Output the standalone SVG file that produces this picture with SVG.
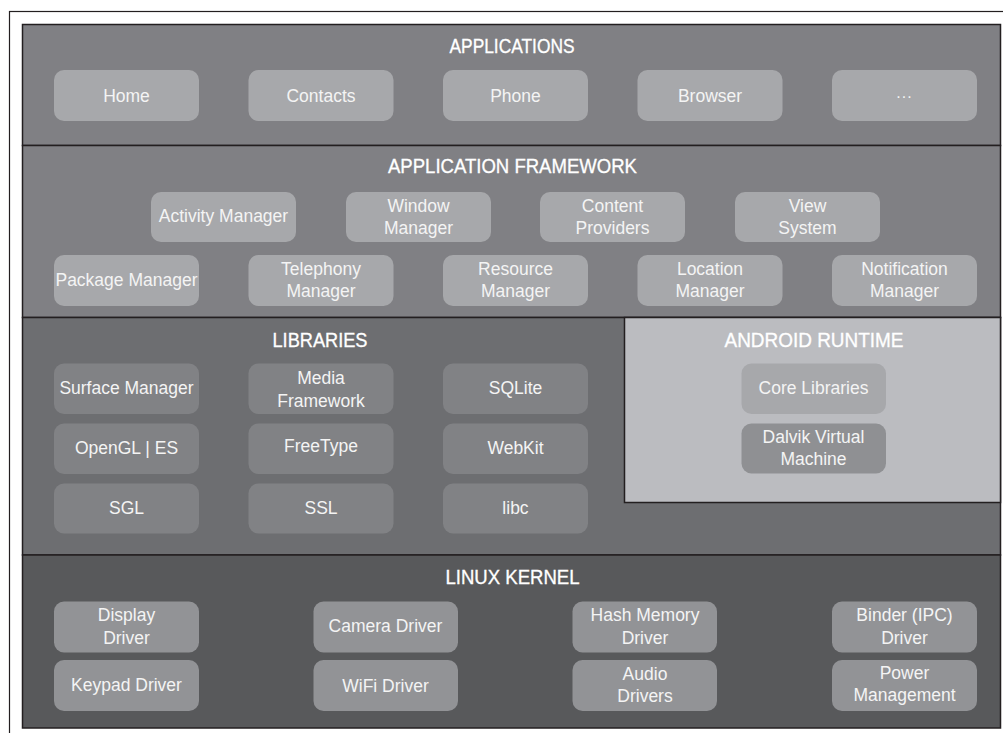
<svg xmlns="http://www.w3.org/2000/svg" width="1003" height="733" viewBox="0 0 1003 733">
<style>
.band{stroke:#231f20;stroke-width:1.5}
.title{font-family:"Liberation Sans",Arial,sans-serif;font-size:19.5px;fill:#ffffff;stroke:#ffffff;stroke-width:0.3;text-anchor:middle}
.t{font-family:"Liberation Sans",Arial,sans-serif;font-size:17.5px;fill:#f4f4f4;text-anchor:middle}
.b1{fill:#a7a8ab}
.b2{fill:#818285}
.b3{fill:#929396}
.core{fill:#a7a8ab}
.dalvik{fill:#8f9093}
</style>
<rect x="0" y="0" width="1003" height="733" fill="#ffffff"/>
<rect x="9.5" y="11.5" width="1000" height="730" fill="none" stroke="#231f20" stroke-width="1.2"/>
<g id="bands">
<rect class="band" x="22.5" y="24.5" width="978" height="121" fill="#808084"/>
<rect class="band" x="22.5" y="145.5" width="978" height="172" fill="#808084"/>
<rect class="band" x="22.5" y="317.5" width="978" height="237.5" fill="#6d6e71"/>
<rect class="band" x="22.5" y="555" width="978" height="173" fill="#58595b"/>
<rect class="band" x="624.5" y="317.5" width="376" height="185" fill="#bbbcc0"/>
</g>
<g id="titles">
<text class="title" x="512" y="53" textLength="125" lengthAdjust="spacingAndGlyphs">APPLICATIONS</text>
<text class="title" x="512.5" y="173" textLength="249" lengthAdjust="spacingAndGlyphs">APPLICATION FRAMEWORK</text>
<text class="title" x="320" y="347" textLength="95" lengthAdjust="spacingAndGlyphs">LIBRARIES</text>
<text class="title" x="814" y="347" textLength="179" lengthAdjust="spacingAndGlyphs">ANDROID RUNTIME</text>
<text class="title" x="512.5" y="584" textLength="134" lengthAdjust="spacingAndGlyphs">LINUX KERNEL</text>
</g>
<g id="applications">
<g id="home"><rect class="b1" x="54" y="70" width="145" height="51" rx="10"/><text class="t" x="126.5" y="101.5">Home</text></g>
<g id="contacts"><rect class="b1" x="248.5" y="70" width="145" height="51" rx="10"/><text class="t" x="321" y="101.5">Contacts</text></g>
<g id="phone"><rect class="b1" x="443" y="70" width="145" height="51" rx="10"/><text class="t" x="515.5" y="101.5">Phone</text></g>
<g id="browser"><rect class="b1" x="637.5" y="70" width="145" height="51" rx="10"/><text class="t" x="710" y="101.5">Browser</text></g>
<g id="more"><rect class="b1" x="832" y="70" width="145" height="51" rx="10"/><text class="t" x="904.5" y="97.5" style="font-size:16px;letter-spacing:1px">...</text></g>
</g>
<g id="framework">
<g id="activity-manager"><rect class="b1" x="151" y="192" width="145" height="50" rx="10"/><text class="t" x="223.5" y="222">Activity Manager</text></g>
<g id="window-manager"><rect class="b1" x="346" y="192" width="145" height="50" rx="10"/><text class="t" x="418.5" y="211.5">Window</text><text class="t" x="418.5" y="234">Manager</text></g>
<g id="content-providers"><rect class="b1" x="540" y="192" width="145" height="50" rx="10"/><text class="t" x="612.5" y="211.5">Content</text><text class="t" x="612.5" y="234">Providers</text></g>
<g id="view-system"><rect class="b1" x="735" y="192" width="145" height="50" rx="10"/><text class="t" x="807.5" y="211.5">View</text><text class="t" x="807.5" y="234">System</text></g>
<g id="package-manager"><rect class="b1" x="54" y="255" width="145" height="51" rx="10"/><text class="t" x="126.5" y="285.5">Package Manager</text></g>
<g id="telephony-manager"><rect class="b1" x="248.5" y="255" width="145" height="51" rx="10"/><text class="t" x="321" y="274.5">Telephony</text><text class="t" x="321" y="297">Manager</text></g>
<g id="resource-manager"><rect class="b1" x="443" y="255" width="145" height="51" rx="10"/><text class="t" x="515.5" y="274.5">Resource</text><text class="t" x="515.5" y="297">Manager</text></g>
<g id="location-manager"><rect class="b1" x="637.5" y="255" width="145" height="51" rx="10"/><text class="t" x="710" y="274.5">Location</text><text class="t" x="710" y="297">Manager</text></g>
<g id="notification-manager"><rect class="b1" x="832" y="255" width="145" height="51" rx="10"/><text class="t" x="904.5" y="274.5">Notification</text><text class="t" x="904.5" y="297">Manager</text></g>
</g>
<g id="libraries">
<g id="surface-manager"><rect class="b2" x="54" y="363.5" width="145" height="50.5" rx="10"/><text class="t" x="126.5" y="394">Surface Manager</text></g>
<g id="media-framework"><rect class="b2" x="248.5" y="363.5" width="145" height="50.5" rx="10"/><text class="t" x="321" y="384">Media</text><text class="t" x="321" y="406.5">Framework</text></g>
<g id="sqlite"><rect class="b2" x="443" y="363.5" width="145" height="50.5" rx="10"/><text class="t" x="515.5" y="394">SQLite</text></g>
<g id="opengl"><rect class="b2" x="54" y="423.5" width="145" height="50.5" rx="10"/><text class="t" x="126.5" y="454">OpenGL | ES</text></g>
<g id="freetype"><rect class="b2" x="248.5" y="423.5" width="145" height="50.5" rx="10"/><text class="t" x="321" y="452">FreeType</text></g>
<g id="webkit"><rect class="b2" x="443" y="423.5" width="145" height="50.5" rx="10"/><text class="t" x="515.5" y="454">WebKit</text></g>
<g id="sgl"><rect class="b2" x="54" y="483.5" width="145" height="50" rx="10"/><text class="t" x="126.5" y="514">SGL</text></g>
<g id="ssl"><rect class="b2" x="248.5" y="483.5" width="145" height="50" rx="10"/><text class="t" x="321" y="514">SSL</text></g>
<g id="libc"><rect class="b2" x="443" y="483.5" width="145" height="50" rx="10"/><text class="t" x="515.5" y="514">libc</text></g>
</g>
<g id="android-runtime">
<g id="core-libraries"><rect class="core" x="741.5" y="363.5" width="144.5" height="50.5" rx="10"/><text class="t" x="813.5" y="394">Core Libraries</text></g>
<g id="dalvik-vm"><rect class="dalvik" x="741.5" y="423.5" width="144.5" height="50" rx="10"/><text class="t" x="813.5" y="443">Dalvik Virtual</text><text class="t" x="813.5" y="465">Machine</text></g>
</g>
<g id="kernel">
<g id="display-driver"><rect class="b3" x="54" y="601.5" width="145" height="51" rx="10"/><text class="t" x="126.5" y="621">Display</text><text class="t" x="126.5" y="644">Driver</text></g>
<g id="camera-driver"><rect class="b3" x="313.5" y="601.5" width="144.5" height="51" rx="10"/><text class="t" x="385.5" y="632">Camera Driver</text></g>
<g id="hash-memory-driver"><rect class="b3" x="572.5" y="601.5" width="144.5" height="51" rx="10"/><text class="t" x="645" y="621">Hash Memory</text><text class="t" x="645" y="644">Driver</text></g>
<g id="binder-driver"><rect class="b3" x="832" y="601.5" width="145" height="51" rx="10"/><text class="t" x="904.5" y="621">Binder (IPC)</text><text class="t" x="904.5" y="644">Driver</text></g>
<g id="keypad-driver"><rect class="b3" x="54" y="660" width="145" height="51" rx="10"/><text class="t" x="126.5" y="691">Keypad Driver</text></g>
<g id="wifi-driver"><rect class="b3" x="313.5" y="660" width="144.5" height="51" rx="10"/><text class="t" x="385.5" y="692">WiFi Driver</text></g>
<g id="audio-drivers"><rect class="b3" x="572.5" y="660" width="144.5" height="51" rx="10"/><text class="t" x="645" y="680">Audio</text><text class="t" x="645" y="702">Drivers</text></g>
<g id="power-management"><rect class="b3" x="832" y="660" width="145" height="51" rx="10"/><text class="t" x="904.5" y="679">Power</text><text class="t" x="904.5" y="701">Management</text></g>
</g>
<g id="connectors"></g>
</svg>
